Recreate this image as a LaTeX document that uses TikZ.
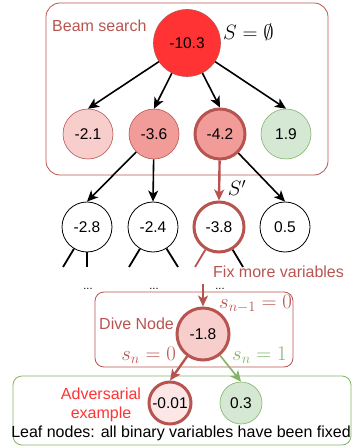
\documentclass[tikz,border=0pt]{standalone}
\usepackage{amsmath}
\usepackage{amssymb}
\usepackage{fontspec}
\setmainfont{Liberation Sans}
\usepackage{xcolor}
\usetikzlibrary{positioning, arrows.meta}

\definecolor{drred}{HTML}{B85450}
\definecolor{drpink}{HTML}{F8CECC}
\definecolor{drsalmon}{HTML}{F19C99}
\definecolor{drhot}{HTML}{FF3333}
\definecolor{drgreen}{HTML}{82B366}
\definecolor{drmint}{HTML}{D5E8D4}
\definecolor{drblush}{HTML}{FCE6E6}

\tikzset{
    val/.style={circle, draw, inner sep=0pt, minimum size=50pt, font=\fontsize{15.5}{18}\selectfont},
    plain/.style={line width=0.8pt},
    picked/.style={draw=drred, line width=3pt},
    soft/.style={fill=drpink, draw=drred, line width=0.6pt},
    warm/.style={fill=drsalmon, draw=drred, line width=0.6pt},
    warmpick/.style={fill=drsalmon, picked},
    safe/.style={fill=drmint, draw=drgreen, line width=0.6pt},
    arr/.style={-{Stealth[length=11pt, width=10pt, inset=3pt]}, line width=1.6pt},
    box/.style={rounded corners=14pt, line width=0.8pt},
    lbl/.style={font=\fontsize{16}{19}\selectfont, inner sep=0pt},
    mth/.style={font=\fontsize{20}{24}\selectfont, inner sep=0pt},
}

\begin{document}
\begin{tikzpicture}[x=1pt, y=-1pt]
        \useasboundingbox (0,0) rectangle (351,446);
        \draw[box, drred] (46,3) rectangle (328,175);
        \draw[box, drred, rounded corners=9pt] (95,292) rectangle (293,367);
        \draw[box, drgreen, rounded corners=9pt] (13,376) rectangle (351,445);

        \node[val, fill=drhot, draw=drred, line width=0.6pt, minimum size=67pt] (root) at (187,43) {-10.3};
        \foreach \v/\st[count=\i] in {-2.1/soft, -3.6/warm, -4.2/warmpick, 1.9/safe} {
            \node[val, \st] (a\i) at (22+66*\i, 134) {\v};
        }
        \foreach \v/\st[count=\i] in {-2.8/plain, -2.4/plain, -3.8/picked, 0.5/plain} {
            \node[val, fill=white, \st] (b\i) at (21+66*\i, 227) {\v};
        }

        \foreach \j in {1,...,4}
            \draw[arr] (root) -- (a\j.north);
        \draw[arr] (a2) -- (b1.north);
        \draw[arr] (a2) -- (b2.north);
        \draw[arr, drred, line width=2.4pt] (a3) -- (b3.north);
        \draw[arr] (a3) -- (b4.north);

        \foreach \n/\x/\c[count=\k] in {1/63/black, 1/87/black, 2/129/black, 2/178/black, 3/195/drred, 3/243/black} {
            \coordinate (t\k) at (\x,267);
            \draw[\c, line width=1.8pt] (b\n) -- (t\k);
        }
        \foreach \x[count=\i] in {88, 154, 220}
            \node[font=\fontsize{11}{12}\selectfont, inner sep=0pt] (d\i) at (\x,289) {...};

        \node[lbl, drred, anchor=west] (beam) at (52,26) {Beam search};
        \node[mth, anchor=west] (sset) at (223,32) {$S=\emptyset$};
        \node[mth] (sprime) at (237,188) {$S'$};
        \node[lbl, drred, anchor=west] (fix) at (213,272) {Fix more variables};

        \node[val, fill=drpink, picked, minimum size=52pt] (dive) at (203,334) {-1.8};
        \node[lbl, drred, anchor=west] (divetxt) at (99,324) {Dive Node};
        \node[mth, drred, anchor=west] (prev) at (219,304) {$s_{n-1}=0$};
        \node[mth, drred, anchor=east] (zero) at (176,355) {$s_n=0$};
        \node[mth, drgreen, anchor=west] (one) at (232,355) {$s_n=1$};
        \coordinate (fixtop) at (203,284);
        \draw[arr, drred, line width=2pt] (fixtop) -- (dive.north);

        \node[val, fill=drblush, picked, minimum size=42pt] (leafA) at (170,403) {-0.01};
        \node[val, safe, minimum size=42pt] (leafB) at (241,403) {0.3};
        \draw[arr, drred, line width=2.4pt] (dive) -- (leafA.north);
        \draw[arr, drgreen] (dive) -- (leafB.north);
        \node[lbl, drhot, align=center] (adv) at (101,405) {Adversarial\\example};
        \node[lbl] (leaftxt) at (181,433) {Leaf nodes: all binary variables have been fixed};
    \end{tikzpicture}
\end{document}
